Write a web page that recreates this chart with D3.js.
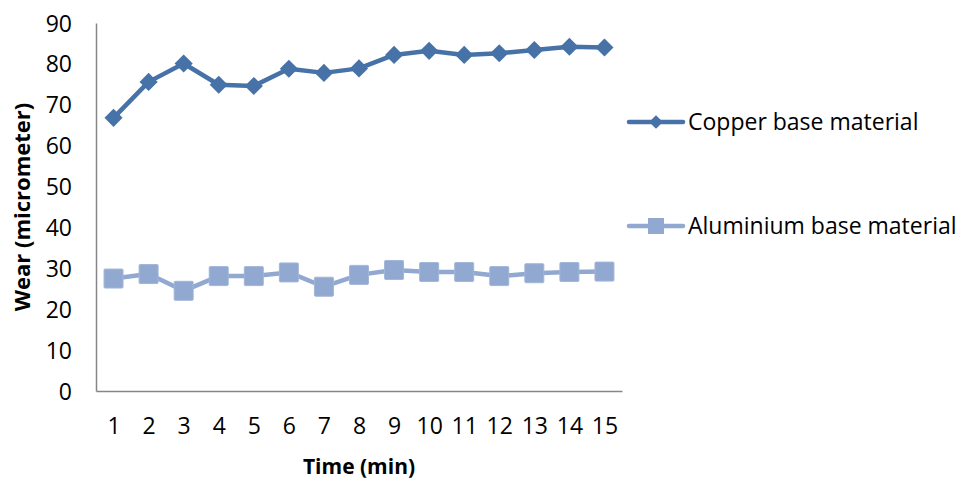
<!DOCTYPE html>
<html>
<head>
<meta charset="utf-8">
<script src="https://cdn.jsdelivr.net/npm/d3@7"></script>
<style>
  html, body { margin: 0; padding: 0; background: #fff; }
  text { font-family: "Open Sans", "Liberation Sans", sans-serif; fill: #000; }
</style>
</head>
<body>
<svg id="chart" width="960" height="479"></svg>
<script>
// Wear measured over time for two base materials
const times = [1, 2, 3, 4, 5, 6, 7, 8, 9, 10, 11, 12, 13, 14, 15];
const copperWear = [66.8, 75.6, 80.1, 74.9, 74.6, 78.8, 77.8, 78.9, 82.2, 83.2, 82.2, 82.6, 83.4, 84.2, 84.0];
const aluminiumWear = [27.5, 28.6, 24.5, 28.1, 28.1, 29.0, 25.5, 28.4, 29.6, 29.1, 29.1, 28.1, 28.8, 29.1, 29.2];
const yTicks = [0, 10, 20, 30, 40, 50, 60, 70, 80, 90];
const seriesNames = ["Copper base material", "Aluminium base material"];

const svg = d3.select("#chart");
const margin = { left: 96, top: 23, right: 338, bottom: 88 };
const width = 960, height = 479;

const x = d3.scalePoint()
  .domain(times)
  .range([margin.left, width - margin.right])
  .padding(0.5);

const y = d3.scaleLinear()
  .domain([0, 90])
  .range([height - margin.bottom, margin.top]);

const axisColor = "#868686";

// Y axis: line with labels only
const yAxis = svg.append("g")
  .attr("transform", `translate(${margin.left},0)`)
  .call(d3.axisLeft(y).tickValues(yTicks).tickSize(0).tickPadding(24));
yAxis.select(".domain").attr("stroke", axisColor).attr("stroke-width", 1.5);
yAxis.selectAll("text").style("font-size", "23px").attr("font-family", null).attr("dy", "0.35em");

// X axis
const xAxis = svg.append("g")
  .attr("transform", `translate(0,${height - margin.bottom})`)
  .call(d3.axisBottom(x).tickSize(0).tickPadding(27));
xAxis.select(".domain").attr("stroke", axisColor).attr("stroke-width", 1.5);
xAxis.selectAll("text").style("font-size", "23px").attr("font-family", null);

// Axis titles
svg.append("text")
  .attr("x", 359)
  .attr("y", 474)
  .attr("text-anchor", "middle")
  .style("font-size", "21px")
  .style("font-weight", "bold")
  .text("Time (min)");

svg.append("text")
  .attr("transform", `translate(30,207) rotate(-90)`)
  .attr("text-anchor", "middle")
  .style("font-size", "22px")
  .style("font-weight", "bold")
  .text("Wear (micrometer)");

const copperColor = "#4672A8";
const aluColor = "#91A8D0";

const line = d3.line()
  .x((d, i) => x(times[i]))
  .y(d => y(d));

const diamond = d3.symbol().type(d3.symbolDiamond2).size(210);

// Aluminium series
svg.append("path")
  .datum(aluminiumWear)
  .attr("fill", "none")
  .attr("stroke", aluColor)
  .attr("stroke-width", 4.5)
  .attr("stroke-linejoin", "round")
  .attr("d", line);

svg.append("g").selectAll("rect")
  .data(aluminiumWear)
  .join("rect")
  .attr("x", (d, i) => x(times[i]) - 9.5)
  .attr("y", d => y(d) - 9.5)
  .attr("width", 19)
  .attr("height", 19)
  .attr("rx", 1)
  .attr("fill", aluColor)
  .attr("stroke", "#a3b6d8")
  .attr("stroke-width", 1);

// Copper series
svg.append("path")
  .datum(copperWear)
  .attr("fill", "none")
  .attr("stroke", copperColor)
  .attr("stroke-width", 4.5)
  .attr("stroke-linejoin", "round")
  .attr("d", line);

svg.append("g").selectAll("path")
  .data(copperWear)
  .join("path")
  .attr("transform", (d, i) => `translate(${x(times[i])},${y(d)})`)
  .attr("d", diamond)
  .attr("fill", copperColor);

// Legend
const legend = svg.append("g");
const legendRows = [
  { name: seriesNames[0], color: copperColor, y: 122, shape: "diamond" },
  { name: seriesNames[1], color: aluColor, y: 226, shape: "square" }
];
legendRows.forEach(r => {
  legend.append("line")
    .attr("x1", 629).attr("x2", 683)
    .attr("y1", r.y).attr("y2", r.y)
    .attr("stroke", r.color)
    .attr("stroke-width", 4.5)
    .attr("stroke-linecap", "round");
  if (r.shape === "diamond") {
    legend.append("path")
      .attr("transform", `translate(656,${r.y})`)
      .attr("d", d3.symbol().type(d3.symbolDiamond2).size(120))
      .attr("fill", r.color);
  } else {
    legend.append("rect")
      .attr("x", 656 - 8).attr("y", r.y - 8)
      .attr("width", 16).attr("height", 16)
      .attr("fill", r.color);
  }
  legend.append("text")
    .attr("x", 688)
    .attr("y", r.y)
    .attr("dy", "0.35em")
    .style("font-size", "23px")
    .text(r.name);
});
</script>
</body>
</html>
